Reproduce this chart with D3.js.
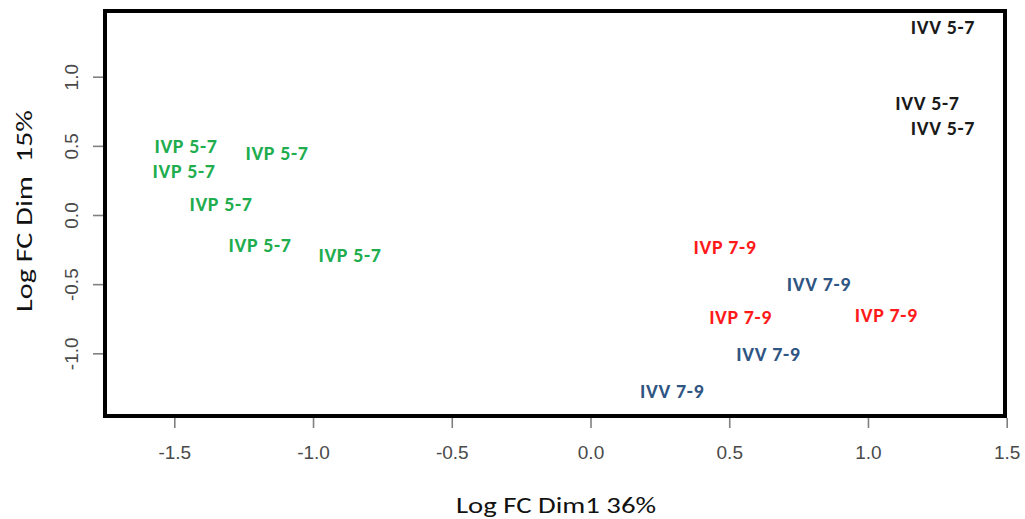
<!DOCTYPE html>
<html>
<head>
<meta charset="utf-8">
<script src="https://cdn.jsdelivr.net/npm/d3@7"></script>
<style>
  html, body { margin: 0; padding: 0; background: #fff; }
  svg { display: block; }
</style>
</head>
<body>
<svg id="chart" width="1025" height="519"></svg>
<script>
// MDS coordinates of each sample (Dim1, Dim2) with its group label
const sampleLabels = [
  "IVP 5-7", "IVP 5-7", "IVP 5-7", "IVP 5-7", "IVP 5-7", "IVP 5-7",
  "IVV 5-7", "IVV 5-7", "IVV 5-7",
  "IVP 7-9", "IVP 7-9", "IVP 7-9",
  "IVV 7-9", "IVV 7-9", "IVV 7-9"
];
const dim1Values = [
  -1.458, -1.465, -1.332, -1.191, -0.867, -1.130,
   1.270,  1.214,  1.270,
   0.485,  0.541,  1.066,
   0.823,  0.641,  0.294
];
const dim2Values = [
   0.499,  0.318,  0.080, -0.217, -0.289,  0.448,
   1.359,  0.810,  0.629,
  -0.231, -0.740, -0.723,
  -0.501, -1.007, -1.273
];
const groupNames = ["IVP 5-7", "IVV 5-7", "IVP 7-9", "IVV 7-9"];
const groupColors = ["#20ad4e", "#1a1a1a", "#ff1a1a", "#2f5583"];
const xTicks = [-1.5, -1.0, -0.5, 0.0, 0.5, 1.0, 1.5];
const yTicks = [-1.0, -0.5, 0.0, 0.5, 1.0];
const xTitle = "Log FC Dim1 36%";
const yTitle = "Log FC Dim\u00a0\u00a015%";

const svg = d3.select("#chart");

const x = d3.scaleLinear().domain([-1.5, 1.5]).range([174.3, 1006.7]);
const y = d3.scaleLinear().domain([-1, 1]).range([353.3, 76.7]);
const color = d3.scaleOrdinal().domain(groupNames).range(groupColors);

// tick labels with a plain hyphen for negatives, one decimal
const fmt = d => d.toFixed(1);

const box = { left: 105, right: 1005, top: 11, bottom: 416 };

// x axis
const xAxis = svg.append("g")
  .attr("transform", `translate(0,${box.bottom + 2})`)
  .call(d3.axisBottom(x).tickValues(xTicks).tickFormat(fmt)
    .tickSize(10).tickPadding(18));
xAxis.select(".domain").remove();
xAxis.selectAll(".tick line").attr("stroke", "#808080").attr("stroke-width", 1.6);
xAxis.selectAll(".tick text")
  .attr("fill", "#4a4a4a")
  .style("font-family", "'Liberation Sans', Arial, sans-serif")
  .style("font-size", "19px");

// y axis (labels rotated, as in base R plots)
const yAxis = svg.append("g")
  .attr("transform", `translate(${box.left - 2},0)`)
  .call(d3.axisLeft(y).tickValues(yTicks).tickFormat(fmt)
    .tickSize(10).tickPadding(0));
yAxis.select(".domain").remove();
yAxis.selectAll(".tick line").attr("stroke", "#808080").attr("stroke-width", 1.6);
yAxis.selectAll(".tick text")
  .attr("fill", "#4a4a4a")
  .attr("x", null).attr("dy", null)
  .attr("text-anchor", "middle")
  .attr("dominant-baseline", "central")
  .attr("transform", "translate(-32,0) rotate(-90)")
  .style("font-family", "'Liberation Sans', Arial, sans-serif")
  .style("font-size", "19px");

// plot frame
svg.append("rect")
  .attr("x", box.left).attr("y", box.top)
  .attr("width", box.right - box.left).attr("height", box.bottom - box.top)
  .attr("fill", "none").attr("stroke", "#000").attr("stroke-width", 4);

// sample labels
const samples = sampleLabels.map((label, i) => ({ label, d1: dim1Values[i], d2: dim2Values[i] }));
svg.append("g").selectAll("text")
  .data(samples)
  .join("text")
  .attr("x", d => x(d.d1))
  .attr("y", d => y(d.d2))
  .attr("text-anchor", "middle")
  .attr("dominant-baseline", "central")
  .attr("fill", d => color(d.label))
  .style("font-family", "Carlito, Calibri, Lato, sans-serif")
  .style("font-weight", "bold")
  .style("font-size", "20px")
  .style("letter-spacing", "0.6px")
  .text(d => d.label);

// axis titles
svg.append("text")
  .attr("x", 556).attr("y", 505)
  .attr("text-anchor", "middle")
  .attr("dominant-baseline", "central")
  .attr("textLength", 200)
  .attr("lengthAdjust", "spacingAndGlyphs")
  .attr("fill", "#111")
  .style("font-family", "Carlito, Calibri, Lato, sans-serif")
  .style("font-size", "23px")
  .text(xTitle);

svg.append("text")
  .attr("transform", "translate(24,211) rotate(-90)")
  .attr("text-anchor", "middle")
  .attr("dominant-baseline", "central")
  .attr("textLength", 202)
  .attr("lengthAdjust", "spacingAndGlyphs")
  .attr("fill", "#111")
  .style("font-family", "Carlito, Calibri, Lato, sans-serif")
  .style("font-size", "23px")
  .text(yTitle);
</script>
</body>
</html>
